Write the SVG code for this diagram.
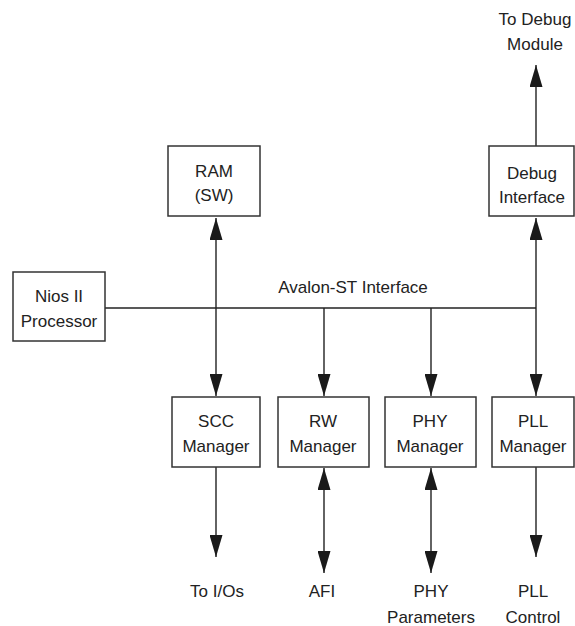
<svg xmlns="http://www.w3.org/2000/svg" width="575" height="626" viewBox="0 0 575 626">
<style>
.box{fill:#fff;stroke:#333;stroke-width:1.5}
.ln{fill:none;stroke:#222;stroke-width:1.4}
text{font-family:"Liberation Sans",Arial,sans-serif;font-size:17px;fill:#222;text-anchor:middle}
</style>
<defs>
<marker id="ah" markerUnits="userSpaceOnUse" markerWidth="22" markerHeight="13" refX="22" refY="6.5" orient="auto-start-reverse" viewBox="0 0 22 13">
<path d="M0,0 L22,6.5 L0,13 z" fill="#1a1a1a"/>
</marker>
</defs>
<g id="connectors">
<line class="ln" x1="105" y1="308" x2="536" y2="308"/>
<line class="ln" x1="216" y1="218" x2="216" y2="396" marker-start="url(#ah)" marker-end="url(#ah)"/>
<line class="ln" x1="324" y1="308" x2="324" y2="396" marker-end="url(#ah)"/>
<line class="ln" x1="431" y1="308" x2="431" y2="396" marker-end="url(#ah)"/>
<line class="ln" x1="536" y1="218" x2="536" y2="396" marker-start="url(#ah)" marker-end="url(#ah)"/>
<line class="ln" x1="536" y1="146" x2="536" y2="65" marker-end="url(#ah)"/>
<line class="ln" x1="216" y1="467" x2="216" y2="557" marker-end="url(#ah)"/>
<line class="ln" x1="324" y1="468" x2="324" y2="573" marker-start="url(#ah)" marker-end="url(#ah)"/>
<line class="ln" x1="431" y1="468" x2="431" y2="573" marker-start="url(#ah)" marker-end="url(#ah)"/>
<line class="ln" x1="536" y1="467" x2="536" y2="557" marker-end="url(#ah)"/>
<text x="353" y="293">Avalon-ST Interface</text>
</g>
<g id="nios"><rect class="box" x="13" y="272" width="92" height="69"/><text x="59" y="302">Nios II</text><text x="59" y="327">Processor</text></g>
<g id="ram"><rect class="box" x="168" y="146" width="92" height="70"/><text x="214" y="177">RAM</text><text x="214" y="201">(SW)</text></g>
<g id="debug"><rect class="box" x="489" y="146" width="85" height="70"/><text x="532" y="179">Debug</text><text x="532" y="203">Interface</text></g>
<g id="scc"><rect class="box" x="172" y="397" width="88" height="70"/><text x="216" y="427">SCC</text><text x="216" y="452">Manager</text></g>
<g id="rw"><rect class="box" x="278" y="397" width="91" height="70"/><text x="323" y="427">RW</text><text x="323" y="452">Manager</text></g>
<g id="phy"><rect class="box" x="385" y="397" width="91" height="70"/><text x="430" y="427">PHY</text><text x="430" y="452">Manager</text></g>
<g id="pll"><rect class="box" x="492" y="397" width="82" height="70"/><text x="533" y="427">PLL</text><text x="533" y="452">Manager</text></g>
<g id="labels">
<text x="535" y="25">To Debug</text><text x="535" y="50">Module</text>
<text x="217" y="597">To I/Os</text>
<text x="322" y="597">AFI</text>
<text x="431" y="597">PHY</text><text x="431" y="623">Parameters</text>
<text x="533" y="597">PLL</text><text x="533" y="623">Control</text>
</g>
</svg>
